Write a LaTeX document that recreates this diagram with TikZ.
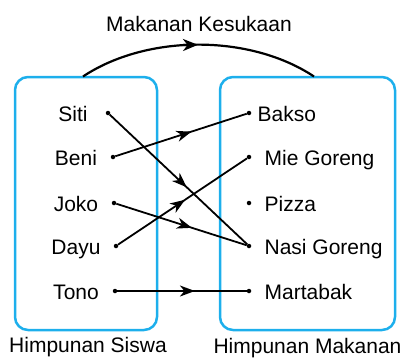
\documentclass[tikz,border=0pt]{standalone}
\usepackage{fontspec}
\setmainfont{Liberation Sans}
\usetikzlibrary{arrows.meta, positioning, decorations.markings}
\definecolor{setline}{RGB}{29, 175, 236}

\begin{document}
\begin{tikzpicture}[
    x=1pt, y=1pt,
    setbox/.style={
        rectangle, rounded corners=13pt, draw=setline, line width=2.5pt,
        minimum width=#1, minimum height=253pt
    },
    dot/.style={
        circle, fill=black, inner sep=0pt, minimum size=4.5pt
    },
    lbl/.style={
        font=\fontsize{21}{24}\selectfont, inner sep=0pt,
        text height=16pt, text depth=0pt
    },
    link/.style={
        line width=1.8pt, postaction={decorate},
        decoration={markings, mark=at position #1 with
            {\arrow{Stealth[length=15pt, width=11pt, inset=4.5pt]}}}
    },
    link/.default=0.57,
    relline/.style={line width=2.2pt}
]
\useasboundingbox (0,0) rectangle (406,357);

% Sets
\node[setbox=142pt] (siswa)   at (86, 153.5)    {};
\node[setbox=175pt] (makanan) at (307.5, 153.5) {};
\node[lbl, below=5pt of siswa, xshift=2pt] {Himpunan Siswa};
\node[lbl, below=6pt of makanan]           {Himpunan Makanan};

% Students (left)
\node[dot] (siti) at (108, 244) {};
\node[dot] (beni) at (113, 200) {};
\node[dot] (joko) at (114, 154) {};
\node[dot] (dayu) at (116, 111) {};
\node[dot] (tono) at (115, 66)  {};
\node[lbl] at (73, 244) {Siti};
\node[lbl] at (76, 200) {Beni};
\node[lbl] at (76, 154) {Joko};
\node[lbl] at (76, 111) {Dayu};
\node[lbl] at (76, 66)  {Tono};

% Foods (right)
\node[dot] (bakso)    at (249, 244) {};
\node[dot] (mie)      at (249, 200) {};
\node[dot] (pizza)    at (249, 154) {};
\node[dot] (nasi)     at (249, 111) {};
\node[dot] (martabak) at (249, 66)  {};
\node[lbl, right=6pt of bakso]     {Bakso};
\node[lbl, right=13pt of mie]      {Mie Goreng};
\node[lbl, right=13pt of pizza]    {Pizza};
\node[lbl, right=13pt of nasi]     {Nasi Goreng};
\node[lbl, right=13pt of martabak] {Martabak};

% Relation arrows
\draw[link=0.56] (siti) -- (nasi);
\draw[link=0.58] (beni) -- (bakso);
\draw[link=0.58] (joko) -- (nasi);
\draw[link=0.52] (dayu) -- (mie);
\draw[link=0.6] (tono) -- (martabak);

% Relation name
\coordinate (arcfrom) at (83, 280.5);
\coordinate (arcto)   at (314, 280.5);
\coordinate (arcpre)  at (183, 312);
\coordinate (arctip)  at (198, 312.2);
\draw[relline] (arcfrom) .. controls (147, 323) and (250, 323) .. (arcto);
\draw[relline, -{Stealth[length=15pt, width=12pt, inset=4.5pt]}] (arcpre) -- (arctip);
\node[lbl] (relasi) at (199, 334) {Makanan Kesukaan};

\end{tikzpicture}
\end{document}
